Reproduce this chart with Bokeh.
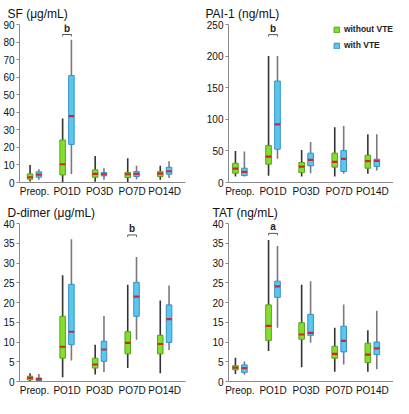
from bokeh.plotting import figure
from bokeh.layouts import column, row
from bokeh.models import Range1d, FixedTicker, Legend, LegendItem, ColumnDataSource
from bokeh.embed import file_html
from bokeh.resources import INLINE
from bokeh.core.properties import value

categories = ["Preop.", "PO1D", "PO3D", "PO7D", "PO14D"]
series_names = ["without VTE", "with VTE"]

# SF (ug/mL)
sf_wo_low = [0.5, 0.0, 0.4, 0.0, 1.5]
sf_wo_q1 = [1.9, 4.3, 3.0, 2.8, 3.4]
sf_wo_med = [3.0, 10.4, 4.9, 4.7, 5.1]
sf_wo_q3 = [4.9, 24.2, 7.2, 5.7, 6.2]
sf_wo_high = [10.0, 36.5, 15.1, 13.8, 9.5]
sf_w_low = [1.5, 4.9, 1.5, 1.9, 2.5]
sf_w_q1 = [3.0, 21.7, 3.8, 3.4, 4.7]
sf_w_med = [4.5, 37.8, 4.7, 4.9, 6.4]
sf_w_q3 = [6.1, 60.9, 5.7, 6.2, 8.7]
sf_w_high = [7.6, 81.3, 8.1, 9.5, 12.1]

# PAI-1 (ng/mL)
pai_wo_low = [9.5, 10.6, 9.5, 9.5, 13.7]
pai_wo_q1 = [14.7, 29.0, 15.8, 24.3, 22.7]
pai_wo_med = [22.0, 41.0, 25.2, 32.7, 33.8]
pai_wo_q3 = [30.5, 58.4, 31.6, 46.4, 43.2]
pai_wo_high = [50.0, 200.0, 51.6, 87.4, 76.4]
pai_w_low = [9.5, 37.4, 14.8, 13.7, 18.9]
pai_w_q1 = [11.0, 52.7, 26.4, 17.4, 25.2]
pai_w_med = [16.8, 92.0, 35.8, 37.4, 34.2]
pai_w_q3 = [22.6, 160.5, 46.4, 50.5, 36.9]
pai_w_high = [49.0, 200.0, 64.2, 89.5, 76.4]

# D-dimer (ug/mL)
dd_wo_low = [0.1, 1.1, 1.8, 3.4, 2.1]
dd_wo_q1 = [0.4, 5.9, 3.4, 7.0, 7.0]
dd_wo_med = [0.9, 8.8, 4.3, 9.8, 9.5]
dd_wo_q3 = [1.35, 16.5, 5.9, 12.6, 11.7]
dd_wo_high = [2.1, 26.9, 9.3, 24.5, 20.5]
dd_w_low = [0.1, 5.3, 2.4, 10.6, 8.0]
dd_w_q1 = [0.25, 9.3, 5.1, 16.5, 9.9]
dd_w_med = [0.6, 12.6, 8.1, 21.5, 15.8]
dd_w_q3 = [0.9, 24.6, 10.2, 25.1, 19.4]
dd_w_high = [1.9, 36.0, 16.6, 31.5, 24.3]

# TAT (ng/mL)
tat_wo_low = [1.9, 7.7, 3.6, 2.5, 2.5]
tat_wo_q1 = [2.95, 10.4, 10.7, 5.9, 4.8]
tat_wo_med = [3.5, 14.1, 11.9, 7.0, 6.8]
tat_wo_q3 = [4.0, 19.4, 14.9, 8.9, 9.7]
tat_wo_high = [6.0, 35.8, 24.5, 13.6, 13.0]
tat_w_low = [1.7, 13.6, 9.8, 4.3, 3.1]
tat_w_q1 = [2.3, 21.3, 11.7, 7.5, 6.8]
tat_w_med = [3.4, 24.1, 12.3, 10.3, 8.4]
tat_w_q3 = [4.2, 25.4, 17.0, 14.0, 10.0]
tat_w_high = [5.05, 34.3, 25.4, 19.5, 17.9]

# significance brackets: category index, height, label
sf_bracket = (1, 84.3, "b")
pai_bracket = (1, 234.0, "b")
dd_bracket = (3, 37.1, "b")
tat_bracket = (1, 37.5, "a")

FONT = "Liberation Sans"
GREEN = "#80e02c"
GREEN_LINE = "#5e9e22"
BLUE = "#58c8f0"
BLUE_LINE = "#3a90c0"
MED_RED = "#d42424"
OFF = 0.135
BW = 0.17


def panel(title, ymax, step, wo, w, bracket, width, height, borders, title_offset,
          x_start, legend=False):
    left, right, top, bottom = borders
    p = figure(width=width, height=height, output_backend="svg", toolbar_location=None,
               x_range=Range1d(x_start, 4.64), y_range=Range1d(0, ymax),
               min_border_left=left, min_border_right=right,
               min_border_top=top, min_border_bottom=bottom)
    p.outline_line_color = None
    p.xgrid.grid_line_color = None
    p.ygrid.grid_line_color = None
    p.title.text = title
    p.title.text_font = FONT
    p.title.text_font_size = "12px"
    p.title.text_font_style = "normal"
    p.title.text_color = "#111111"
    p.title.offset = title_offset
    p.title.standoff = 7

    xs = list(range(len(categories)))
    renderers = []
    for k, (stats, fill, line, wcol, mcol) in enumerate([
            (wo, GREEN, GREEN_LINE, "#333333", MED_RED),
            (w, BLUE, BLUE_LINE, "#7a7a7a", "#c8283c")]):
        low, q1, med, q3, high = stats
        sign = -1 if k == 0 else 1
        src = ColumnDataSource(dict(
            x=[i + sign * OFF for i in xs], low=low, q1=q1, med=med, q3=q3, high=high,
            x0=[i + sign * OFF - BW / 2 for i in xs], x1=[i + sign * OFF + BW / 2 for i in xs]))
        p.segment(x0="x", x1="x", y0="low", y1="high", source=src,
                  line_color=wcol, line_width=1.6)
        r = p.vbar(x="x", width=BW, bottom="q1", top="q3", source=src,
                   fill_color=fill, line_color=line, line_width=1)
        p.segment(x0="x0", x1="x1", y0="med", y1="med", source=src,
                  line_color=mcol, line_width=2.2)
        renderers.append(r)

    ci, by, lab = bracket
    tick = ymax * 0.012
    bsrc = ColumnDataSource(dict(
        x0=[ci - OFF, ci - OFF, ci + OFF], x1=[ci + OFF, ci - OFF, ci + OFF],
        y0=[by, by, by], y1=[by, by - tick, by - tick]))
    p.segment(x0="x0", x1="x1", y0="y0", y1="y1", source=bsrc,
              line_color="#555555", line_width=1)
    p.text(x=[ci], y=[by], text=[lab], text_font=value(FONT), text_font_size="10px",
           text_font_style="bold", text_align="center", text_baseline="bottom",
           y_offset=-1, text_color="#222222")

    p.xaxis.ticker = FixedTicker(ticks=xs)
    p.xaxis.major_label_overrides = {i: c for i, c in enumerate(categories)}
    p.xaxis.major_tick_line_color = None
    p.xaxis.major_tick_out = 0
    p.xaxis.major_tick_in = 0
    p.xaxis.minor_tick_line_color = None
    p.xaxis.axis_line_color = "#8a8a8a"
    p.xaxis.major_label_text_font = FONT
    p.xaxis.major_label_text_font_size = "10px"
    p.xaxis.major_label_text_color = "#111111"
    p.xaxis.major_label_standoff = 3

    p.yaxis.ticker = FixedTicker(ticks=list(range(0, ymax + 1, step)))
    p.yaxis.minor_tick_line_color = None
    p.yaxis.axis_line_color = "#8a8a8a"
    p.yaxis.major_tick_line_color = "#8a8a8a"
    p.yaxis.major_tick_out = 3
    p.yaxis.major_tick_in = 0
    p.yaxis.major_label_text_font = FONT
    p.yaxis.major_label_text_font_size = "10px"
    p.yaxis.major_label_text_color = "#111111"
    p.yaxis.major_label_standoff = 2

    if legend:
        leg = Legend(items=[LegendItem(label=series_names[0], renderers=[renderers[0]]),
                            LegendItem(label=series_names[1], renderers=[renderers[1]])],
                     location="top_right")
        leg.border_line_color = None
        leg.background_fill_alpha = 0
        leg.label_text_font = FONT
        leg.label_text_font_size = "8.5px"
        leg.label_text_font_style = "bold"
        leg.label_text_color = "#222222"
        leg.glyph_width = 7
        leg.glyph_height = 7
        leg.label_height = 10
        leg.label_standoff = 4
        leg.spacing = 6
        leg.padding = 0
        leg.margin = 0
        p.add_layout(leg)
    return p


p1 = panel("SF (\u03bcg/mL)", 90, 10,
           (sf_wo_low, sf_wo_q1, sf_wo_med, sf_wo_q3, sf_wo_high),
           (sf_w_low, sf_w_q1, sf_w_med, sf_w_q3, sf_w_high),
           sf_bracket, 196, 199, (14, 11, 24, 16), -12, -0.46)
p2 = panel("PAI-1 (ng/mL)", 250, 50,
           (pai_wo_low, pai_wo_q1, pai_wo_med, pai_wo_q3, pai_wo_high),
           (pai_w_low, pai_w_q1, pai_w_med, pai_w_q3, pai_w_high),
           pai_bracket, 197, 199, (32, 0, 24, 16), -23, -0.345, legend=True)
p3 = panel("D-dimer (\u03bcg/mL)", 40, 5,
           (dd_wo_low, dd_wo_q1, dd_wo_med, dd_wo_q3, dd_wo_high),
           (dd_w_low, dd_w_q1, dd_w_med, dd_w_q3, dd_w_high),
           dd_bracket, 196, 199, (14, 11, 24, 16), -12, -0.46)
p4 = panel("TAT (ng/mL)", 40, 5,
           (tat_wo_low, tat_wo_q1, tat_wo_med, tat_wo_q3, tat_wo_high),
           (tat_w_low, tat_w_q1, tat_w_med, tat_w_q3, tat_w_high),
           tat_bracket, 197, 199, (32, 0, 24, 16), -16, -0.345)

layout = column(row(p1, p2), row(p3, p4))
open("out.html", "w").write(file_html(layout, INLINE))
